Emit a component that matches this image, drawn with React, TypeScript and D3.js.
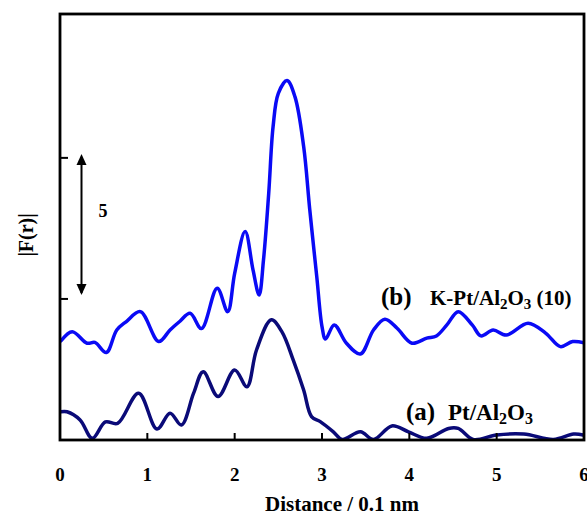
import React from "react";
import { scaleLinear, line, curveCatmullRom } from "d3";

// (b) K-Pt/Al2O3 (10), shifted up
const rB = [0.01, 0.14, 0.31, 0.4, 0.53, 0.65, 0.76, 0.92, 1.13, 1.26, 1.37, 1.49, 1.62, 1.8, 1.92, 2.0, 2.12, 2.21, 2.28, 2.33, 2.39, 2.44, 2.5, 2.6, 2.69, 2.79, 2.86, 2.94, 3.0, 3.04, 3.14, 3.28, 3.44, 3.59, 3.72, 3.86, 4.03, 4.2, 4.31, 4.43, 4.56, 4.72, 4.82, 4.96, 5.11, 5.36, 5.56, 5.73, 5.87, 6.0];
const fB = [3.51, 3.84, 3.43, 3.46, 3.1, 3.9, 4.2, 4.55, 3.49, 3.9, 4.2, 4.49, 3.95, 5.38, 4.55, 5.91, 7.39, 6.03, 5.14, 6.38, 8.75, 11.11, 12.29, 12.74, 12.17, 10.4, 8.16, 5.79, 4.02, 3.58, 4.08, 3.43, 3.05, 3.9, 4.28, 3.96, 3.43, 3.61, 3.69, 4.08, 4.55, 4.08, 3.69, 3.9, 3.72, 4.14, 3.79, 3.31, 3.49, 3.45];

// (a) Pt/Al2O3
const rA = [0.01, 0.08, 0.23, 0.37, 0.52, 0.66, 0.9, 1.11, 1.26, 1.39, 1.53, 1.64, 1.81, 2.0, 2.14, 2.25, 2.42, 2.54, 2.67, 2.79, 2.88, 2.98, 3.13, 3.23, 3.44, 3.59, 3.8, 3.99, 4.2, 4.45, 4.56, 4.73, 5.0, 5.31, 5.65, 5.88, 5.99];
const fA = [1.0, 1.0, 0.71, 0.06, 0.64, 0.59, 1.66, 0.39, 0.95, 0.53, 1.66, 2.42, 1.54, 2.48, 1.89, 3.19, 4.26, 3.84, 2.84, 1.77, 0.83, 0.65, 0.29, 0.02, 0.29, 0.02, 0.5, 0.29, 0.06, 0.41, 0.41, 0.02, 0.18, 0.21, 0.02, 0.21, 0.18];

const xTicks = [0, 1, 2, 3, 4, 5, 6];
const yTicks = [5, 10];

const W = 587;
const H = 517;
const left = 60, right = 584, top = 14, bottom = 440;

const font = "'Liberation Serif', 'Times New Roman', serif";

export default function App() {
  const x = scaleLinear().domain([0, 6]).range([left, right]);
  const y = scaleLinear().domain([0, 15.1]).range([bottom, top]);

  const mk = (rs: number[], fs: number[]) =>
    line<[number, number]>()
      .x((d) => x(d[0]))
      .y((d) => y(d[1]))
      .curve(curveCatmullRom.alpha(0.5))(rs.map((r, i) => [r, fs[i]]) as [number, number][]) || "";

  const arrowX = 81.5;
  const yTop = y(10);
  const yBot = y(5);

  return (
    <div style={{ position: "fixed", left: 0, top: 0 }}>
      <svg width={W} height={H} style={{ display: "block", background: "#fff" }}>
        <defs>
          <clipPath id="plot">
            <rect x={left} y={top} width={right - left} height={bottom - top} />
          </clipPath>
        </defs>

        {/* curves */}
        <g clipPath="url(#plot)" fill="none" strokeLinejoin="round" strokeLinecap="round">
          <path d={mk(rA, fA)} stroke="#0a0a78" strokeWidth={3.5} />
          <path d={mk(rB, fB)} stroke="#0a0af5" strokeWidth={3.5} />
        </g>

        {/* frame */}
        <rect x={left} y={top} width={right - left} height={bottom - top} fill="none" stroke="#000" strokeWidth={2.8} />

        {/* ticks */}
        {xTicks.map((t) => (
          <line key={"xt" + t} x1={x(t)} x2={x(t)} y1={bottom} y2={bottom - 7} stroke="#000" strokeWidth={2} />
        ))}
        {yTicks.map((t) => (
          <line key={"yt" + t} x1={left} x2={left + 8} y1={y(t)} y2={y(t)} stroke="#000" strokeWidth={2} />
        ))}

        {/* tick labels */}
        <g fontFamily={font} fontWeight="bold" fontSize={19} textAnchor="middle">
          {xTicks.map((t) => (
            <text key={"xl" + t} x={x(t)} y={481}>{t}</text>
          ))}
        </g>

        {/* axis titles */}
        <text x={342} y={511} fontFamily={font} fontWeight="bold" fontSize={21} textAnchor="middle">
          Distance / 0.1 nm
        </text>
        <text
          transform={`translate(33, 235) rotate(-90)`}
          fontFamily={font}
          fontWeight="bold"
          fontSize={20}
          textAnchor="middle"
        >
          |F(r)|
        </text>

        {/* scale arrow */}
        <line x1={arrowX} x2={arrowX} y1={yTop + 6} y2={yBot - 6} stroke="#000" strokeWidth={2} />
        <path d={`M${arrowX},${yTop - 4} L${arrowX - 5},${yTop + 7} L${arrowX + 5},${yTop + 7} Z`} fill="#000" />
        <path d={`M${arrowX},${yBot - 4} L${arrowX - 5},${yBot - 15} L${arrowX + 5},${yBot - 15} Z`} fill="#000" />
        <text x={103} y={217} fontFamily={font} fontWeight="bold" fontSize={18} textAnchor="middle">5</text>

        {/* series labels */}
        <g fontFamily={font} fontWeight="bold">
          <text x={381} y={305} fontSize={25}>(b)</text>
          <text x={430} y={305} fontSize={21}>
            K-Pt/Al<tspan fontSize={15} dy={4}>2</tspan>
            <tspan dy={-4}>O</tspan>
            <tspan fontSize={15} dy={4}>3</tspan>
            <tspan dy={-4}> (10)</tspan>
          </text>
          <text x={406} y={420} fontSize={25}>(a)</text>
          <text x={448} y={420} fontSize={23}>
            Pt/Al<tspan fontSize={16} dy={4}>2</tspan>
            <tspan dy={-4}>O</tspan>
            <tspan fontSize={16} dy={4}>3</tspan>
          </text>
        </g>
      </svg>
    </div>
  );
}
